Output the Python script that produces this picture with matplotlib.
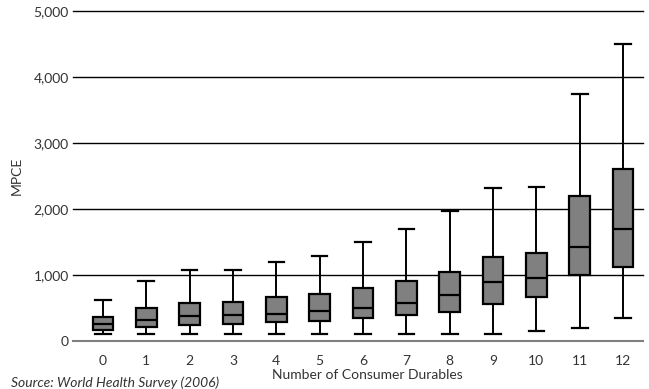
import matplotlib
matplotlib.use("Agg")
import matplotlib.pyplot as plt

categories = [str(i) for i in range(13)]
whisker_low = [100, 100, 100, 100, 100, 100, 100, 100, 100, 100, 157, 202, 353]
q1 = [172, 212, 247, 263, 283, 308, 348, 389, 439, 561, 667, 995, 1116]
median = [263, 318, 374, 399, 414, 449, 500, 576, 697, 894, 960, 1424, 1692]
q3 = [364, 500, 576, 591, 662, 707, 808, 914, 1051, 1268, 1333, 2197, 2611]
whisker_high = [626, 914, 1070, 1076, 1197, 1293, 1495, 1692, 1975, 2318, 2333, 3742, 4505]
yticks = [0, 1000, 2000, 3000, 4000, 5000]
ytick_labels = ["0", "1,000", "2,000", "3,000", "4,000", "5,000"]

plt.rcParams['font.family'] = ['Lato', 'DejaVu Sans']
FS = 10

fig = plt.figure(figsize=(6.49, 3.89), dpi=100)
ax = fig.add_axes([0.1125, 0.1234, 0.8783, 0.8483])

stats = []
for i in range(len(categories)):
    stats.append(dict(whislo=whisker_low[i], q1=q1[i], med=median[i], q3=q3[i],
                      whishi=whisker_high[i], fliers=[], label=categories[i]))

for y in yticks[1:]:
    ax.axhline(y, color='black', lw=1.0, zorder=0, clip_on=False)

ax.bxp(stats, positions=range(len(categories)), widths=0.48, patch_artist=True,
       showfliers=False,
       boxprops=dict(facecolor='#808080', edgecolor='black', linewidth=1.6),
       medianprops=dict(color='black', linewidth=1.6),
       whiskerprops=dict(color='black', linewidth=1.4),
       capprops=dict(color='black', linewidth=1.6),
       capwidths=0.36)

ax.set_xlim(-0.69, 12.46)
ax.set_ylim(0, 5000)
ax.set_yticks(yticks)
ax.set_yticklabels(ytick_labels)
ax.set_xticks(range(len(categories)))
ax.set_xticklabels(categories)
for s in ['left', 'right', 'top']:
    ax.spines[s].set_visible(False)
ax.spines['bottom'].set_color('#808080')
ax.spines['bottom'].set_linewidth(1.5)
ax.tick_params(axis='both', length=0, labelsize=FS, colors='#333333')
ax.tick_params(axis='y', pad=3)
ax.tick_params(axis='x', pad=10)
ax.set_ylabel('MPCE', fontsize=FS, color='#333333', labelpad=8)
ax.set_xlabel('Number of Consumer Durables', fontsize=FS, color='#333333', labelpad=3)
ax.xaxis.set_label_coords(0.516, -0.085)
ax.xaxis.label.set_va('top')

fig.text(0.017, 0.0, 'Source: World Health Survey (2006)', fontsize=FS, style='italic',
         color='#333333', ha='left', va='bottom')

fig.savefig('out.png', dpi=100)
